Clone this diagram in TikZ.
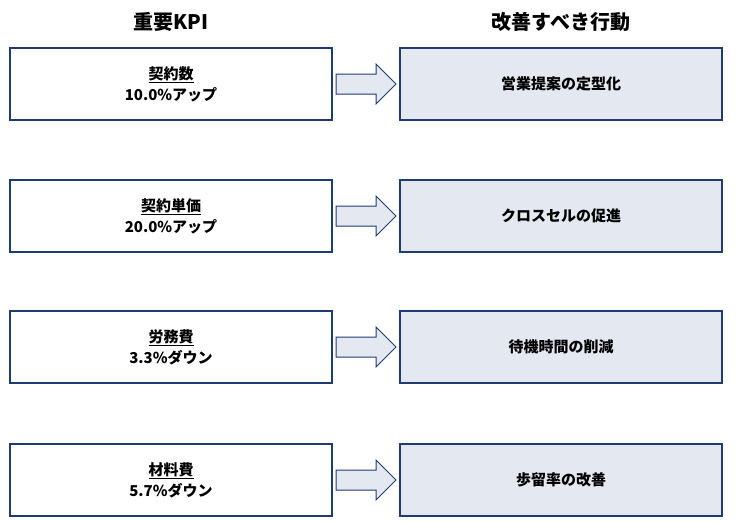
\documentclass[tikz,border=0pt]{standalone}
\usepackage{fontspec}
\setmainfont{Noto Sans CJK JP}
\newfontfamily\jpb{Noto Sans CJK JP Bold}
\begin{document}
\begin{tikzpicture}[x=1pt,y=-1pt,
  bx/.style={draw=bordc,line width=1.2pt,minimum width=322pt,minimum height=72pt,inner sep=0pt,align=center,font=\bfseries\fontsize{15}{21}\selectfont},
  lbox/.style={bx,fill=white},
  rbox/.style={bx,fill=fillc},
  ttl/.style={font=\bfseries\fontsize{20}{24}\selectfont}]
\definecolor{bordc}{HTML}{1F3B73}
\definecolor{fillc}{HTML}{E3E8F1}
\useasboundingbox (0,0) rectangle (737,520);
\node[ttl] (t1) at (171,22) {重要KPI};
\node[ttl] (t2) at (561,22) {改善すべき行動};
\foreach \i/\y/\a/\b/\c in {1/84/契約数/10.0\%アップ/営業提案の定型化, 2/216/契約単価/20.0\%アップ/クロスセルの促進, 3/347/労務費/3.3\%ダウン/待機時間の削減, 4/480/材料費/5.7\%ダウン/歩留率の改善}{
  \node[lbox] (l\i) at (171,\y) {\underline{\a}\\\b};
  \node[rbox] (r\i) at (561,\y) {\c};
  \draw[draw=bordc,fill=fillc,line width=1pt] (336,\y-10) -- (376,\y-10) -- (376,\y-20) -- (396,\y) -- (376,\y+20) -- (376,\y+10) -- (336,\y+10) -- cycle;
}
\end{tikzpicture}
\end{document}
